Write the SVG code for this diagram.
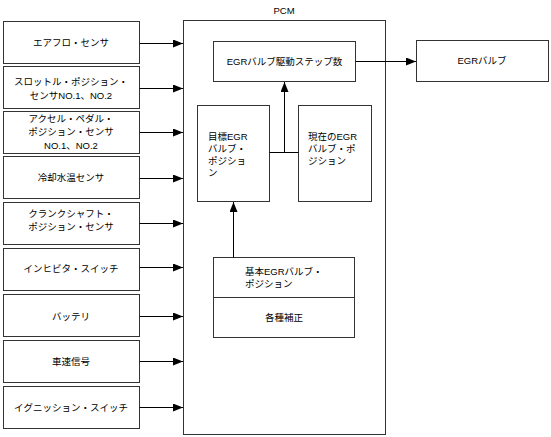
<svg xmlns="http://www.w3.org/2000/svg" width="551" height="437" viewBox="0 0 551 437">
<defs>
<marker id="ah" viewBox="0 0 10 8" refX="10" refY="4" markerWidth="10" markerHeight="8" markerUnits="userSpaceOnUse" orient="auto">
<path d="M0,0 L10,4 L0,8 Z" fill="#000"/>
</marker>
</defs>
<style>
rect{fill:#fff;stroke:#333;stroke-width:1}
text{font-family:"Liberation Sans","Noto Sans CJK JP",sans-serif;font-size:9.5px;fill:#000}
.c{text-anchor:middle}
.ln{stroke:#000;stroke-width:1;fill:none}
.ar{stroke:#000;stroke-width:1;fill:none;marker-end:url(#ah)}
</style>
<g id="pcm">
<rect x="183.5" y="20.5" width="202" height="414"/>
<text class="c" x="284" y="14">PCM</text>
</g>
<g id="n1"><rect x="3.5" y="21.5" width="136" height="42"/><text class="c" x="71" y="46">エアフロ・センサ</text></g>
<g id="n2"><rect x="3.5" y="66.5" width="136" height="42"/><text class="c" x="71" y="85">スロットル・ポジション・</text><text class="c" x="71" y="98.5">センサNO.1、NO.2</text></g>
<g id="n3"><rect x="3.5" y="111.5" width="136" height="42"/><text class="c" x="71" y="121.5">アクセル・ペダル・</text><text class="c" x="71" y="135">ポジション・センサ</text><text class="c" x="71" y="148.5">NO.1、NO.2</text></g>
<g id="n4"><rect x="3.5" y="156.5" width="136" height="42"/><text class="c" x="71" y="181">冷却水温センサ</text></g>
<g id="n5"><rect x="3.5" y="202.5" width="136" height="42"/><text class="c" x="71" y="216.5">クランクシャフト・</text><text class="c" x="71" y="230">ポジション・センサ</text></g>
<g id="n6"><rect x="3.5" y="248.5" width="136" height="42"/><text class="c" x="71" y="272">インヒビタ・スイッチ</text></g>
<g id="n7"><rect x="3.5" y="294.5" width="136" height="42"/><text class="c" x="71" y="320">バッテリ</text></g>
<g id="n8"><rect x="3.5" y="340.5" width="136" height="42"/><text class="c" x="71" y="364.5">車速信号</text></g>
<g id="n9"><rect x="3.5" y="386.5" width="136" height="42"/><text class="c" x="71" y="410.5">イグニッション・スイッチ</text></g>
<g id="step"><rect x="213.5" y="41.5" width="142" height="40"/><text class="c" x="284.5" y="64.5">EGRバルブ駆動ステップ数</text></g>
<g id="valve"><rect x="416.5" y="40.5" width="132" height="41"/><text class="c" x="482" y="63.5">EGRバルブ</text></g>
<g id="target"><rect x="197.5" y="105.5" width="72" height="96"/><text x="208" y="140">目標EGR</text><text x="208" y="152">バルブ・</text><text x="208" y="164">ポジショ</text><text x="208" y="176">ン</text></g>
<g id="current"><rect x="298.5" y="105.5" width="73" height="96"/><text x="308" y="140">現在のEGR</text><text x="308" y="152">バルブ・ポ</text><text x="308" y="164">ジション</text></g>
<g id="base"><rect x="213.5" y="257.5" width="141" height="40"/><rect x="213.5" y="297.5" width="141" height="40"/><text x="245" y="275">基本EGRバルブ・</text><text x="245" y="286.5">ポジション</text><text class="c" x="284" y="321">各種補正</text></g>
<g id="connectors">
<path class="ar" d="M139.5,43.5 H183"/>
<path class="ar" d="M139.5,88.5 H183"/>
<path class="ar" d="M139.5,132.5 H183"/>
<path class="ar" d="M139.5,178.5 H183"/>
<path class="ar" d="M139.5,223.5 H183"/>
<path class="ar" d="M139.5,267.5 H183"/>
<path class="ar" d="M139.5,316.5 H183"/>
<path class="ar" d="M139.5,361.5 H183"/>
<path class="ar" d="M139.5,407.5 H183"/>
<path class="ar" d="M355.5,61.5 H416"/>
<path class="ln" d="M269.5,152.5 H298.5"/>
<path class="ar" d="M284.5,152.5 V82"/>
<path class="ar" d="M233.5,257.5 V202"/>
</g>
</svg>
